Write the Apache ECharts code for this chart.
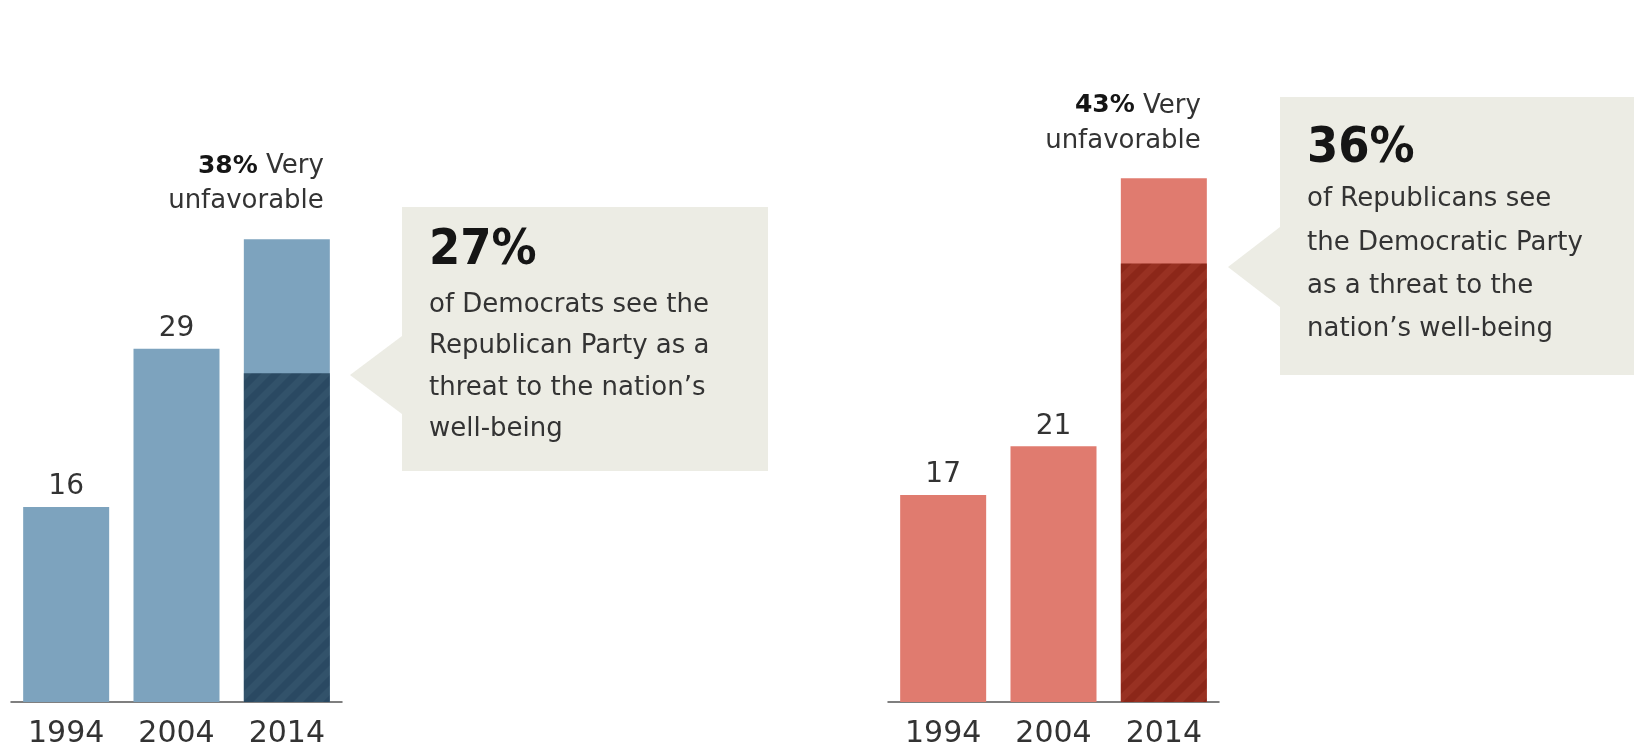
<!DOCTYPE html>
<html>
<head>
<meta charset="utf-8">
<script src="https://cdn.jsdelivr.net/npm/echarts@6/dist/echarts.min.js"></script>
<style>
html,body{margin:0;padding:0;background:#fff;}
#c{width:1634px;height:749px;}
</style>
</head>
<body>
<div id="c"></div>
<script>
// ---- data ----
const years = ['1994', '2004', '2014'];
const demVeryUnfav = [16, 29, 38];
const demThreat = [null, null, 27];
const repVeryUnfav = [17, 21, 43];
const repThreat = [null, null, 36];
const demCalloutText = ['of Democrats see the', 'Republican Party as a', 'threat to the nation\u2019s', 'well-being'];
const repCalloutText = ['of Republicans see', 'the Democratic Party', 'as a threat to the', 'nation\u2019s well-being'];

// ---- styles ----
const BODY_FONT = "'DejaVu Sans', 'Open Sans', sans-serif";
const COND_FONT = "'Liberation Sans Narrow', 'DejaVu Sans Condensed', 'Roboto Condensed', 'Liberation Sans', sans-serif";
const C = {
  blueLight: '#7DA3BE', blueDark: '#2A4962', blueStripe: '#32526A',
  redLight: '#E07B6F', redDark: '#8C2719', redStripe: '#983122',
  box: '#ECECE4', text: '#333333', head: '#151515', axis: '#555555'
};

function stripes(bg, fg) {
  const s = 20;
  const cv = document.createElement('canvas');
  cv.width = s; cv.height = s;
  const ctx = cv.getContext('2d');
  ctx.fillStyle = bg; ctx.fillRect(0, 0, s, s);
  ctx.strokeStyle = fg; ctx.lineWidth = 7; ctx.lineCap = 'square';
  for (let i = -s; i <= 2 * s; i += s) {
    ctx.beginPath(); ctx.moveTo(i - s - 6, s + 6); ctx.lineTo(i + 6, -6); ctx.stroke();
  }
  return { image: cv, repeat: 'repeat' };
}

function baseSeries(values, light, gridIdx) {
  const last = values.length - 1;
  return {
    type: 'bar', xAxisIndex: gridIdx, yAxisIndex: gridIdx,
    barWidth: 86, barGap: '-100%',
    itemStyle: { color: light },
    label: {
      show: true, position: 'top', distance: 6,
      fontFamily: BODY_FONT, fontSize: 28, color: C.text
    },
    data: values.map((v, i) => i === last ? {
      value: v,
      label: {
        position: ['100%', 0], align: 'right', verticalAlign: 'bottom',
        offset: [-6, -20], distance: 0,
        formatter: '{b|' + v + '%}{n| Very}\n{n|unfavorable}',
        rich: {
          b: { fontFamily: BODY_FONT, fontWeight: 'bold', fontSize: 25, color: C.head, lineHeight: 35, align: 'right' },
          n: { fontFamily: BODY_FONT, fontSize: 26, color: C.text, lineHeight: 35, align: 'right' }
        }
      }
    } : v)
  };
}

function threatSeries(values, bg, fg, gridIdx) {
  return {
    type: 'bar', xAxisIndex: gridIdx, yAxisIndex: gridIdx,
    barWidth: 86, barGap: '-100%', z: 3,
    itemStyle: { color: stripes(bg, fg) },
    data: values.map(v => v == null ? '-' : v)
  };
}

function callout(x0, y0, x1, y1, tipX, tipY, half, headY, bodyTop, lh, pct, lines) {
  return [
    {
      type: 'polygon', z: 1,
      shape: { points: [[x0, y0], [x1, y0], [x1, y1], [x0, y1], [x0, tipY + half], [tipX, tipY], [x0, tipY - half]] },
      style: { fill: C.box }
    },
    {
      type: 'text', z: 2, x: x0 + 27, y: headY,
      style: { text: pct + '%', font: 'bold 50px ' + COND_FONT, fill: C.head, verticalAlign: 'middle', align: 'left' }
    },
    {
      type: 'text', z: 2, x: x0 + 27, y: bodyTop,
      style: { text: lines.join('\n'), font: '26px ' + BODY_FONT, fill: C.text, lineHeight: lh, verticalAlign: 'top', align: 'left' }
    }
  ];
}

const xAxisCommon = {
  type: 'category', data: years,
  axisLine: { lineStyle: { color: C.axis, width: 1.5 } },
  axisTick: { show: false },
  axisLabel: { fontFamily: BODY_FONT, fontSize: 30, color: C.text, margin: 17, lineHeight: 30 }
};
const yAxisCommon = { type: 'value', min: 0, max: 50, show: false, splitLine: { show: false } };

const chart = echarts.init(document.getElementById('c'), null, { renderer: 'canvas' });
chart.setOption({
  animation: false,
  backgroundColor: '#ffffff',
  grid: [
    { left: 11, width: 331, top: 93, height: 610 },
    { left: 888, width: 331, top: 93, height: 610 }
  ],
  xAxis: [
    Object.assign({ gridIndex: 0 }, xAxisCommon),
    Object.assign({ gridIndex: 1 }, xAxisCommon)
  ],
  yAxis: [
    Object.assign({ gridIndex: 0 }, yAxisCommon),
    Object.assign({ gridIndex: 1 }, yAxisCommon)
  ],
  series: [
    baseSeries(demVeryUnfav, C.blueLight, 0),
    threatSeries(demThreat, C.blueDark, C.blueStripe, 0),
    baseSeries(repVeryUnfav, C.redLight, 1),
    threatSeries(repThreat, C.redDark, C.redStripe, 1)
  ],
  graphic: [].concat(
    callout(402, 207, 768, 471, 350, 375, 39, 251, 284, 41.5, demThreat[2], demCalloutText),
    callout(1280, 97, 1634, 375, 1228, 267, 40, 149, 178, 43.3, repThreat[2], repCalloutText)
  )
});
</script>
</body>
</html>
